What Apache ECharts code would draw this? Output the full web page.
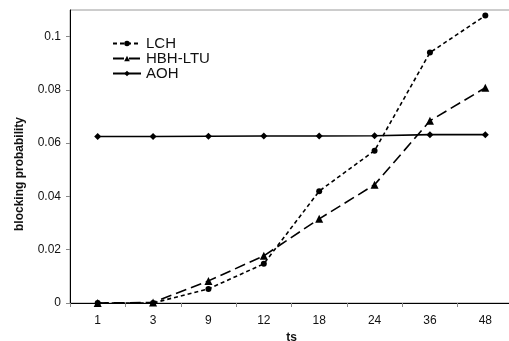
<!DOCTYPE html>
<html>
<head>
<meta charset="utf-8">
<script src="https://cdn.jsdelivr.net/npm/echarts@6/dist/echarts.min.js"></script>
<style>
  html, body { margin: 0; padding: 0; background: #fff; }
  #chart { width: 509px; height: 341px; }
</style>
</head>
<body>
<div id="chart"></div>
<script>
const categories = ['1', '3', '9', '12', '18', '24', '36', '48']
const lch = [0, 0, 0.0053, 0.0147, 0.042, 0.0572, 0.094, 0.1079]
const hbhLtu = [0, 0.0002, 0.0083, 0.0177, 0.0316, 0.0444, 0.0684, 0.0808]
const aoh = [0.0625, 0.0625, 0.0626, 0.0627, 0.0627, 0.0628, 0.0632, 0.0632]

const font = 'Liberation Sans, Arial, sans-serif'
const chart = echarts.init(document.getElementById('chart'))

chart.setOption({
  animation: false,
  backgroundColor: '#fff',
  textStyle: { fontFamily: font, color: '#111' },
  grid: {
    left: 70, top: 10, right: -4, bottom: 38,
    outerBoundsMode: 'none',
    containLabel: false,
    show: true, borderColor: '#9a9a9a', borderWidth: 1
  },
  legend: {
    orient: 'vertical',
    left: 107,
    top: 31,
    itemWidth: 28,
    itemHeight: 7,
    itemGap: 0,
    textStyle: { fontFamily: font, fontSize: 15, lineHeight: 15, color: '#111' },
    data: ['LCH', 'HBH-LTU', 'AOH']
  },
  xAxis: {
    type: 'category',
    data: categories,
    boundaryGap: true,
    name: 'ts',
    nameLocation: 'middle',
    nameGap: 23,
    nameTextStyle: { fontFamily: font, fontSize: 12, fontWeight: 'bold', color: '#111' },
    axisLine: { lineStyle: { color: '#000', width: 1 } },
    axisTick: { show: true, length: 4, lineStyle: { color: '#888' } },
    axisLabel: { fontSize: 12, color: '#111', margin: 12 },
    splitLine: { show: false }
  },
  yAxis: {
    type: 'value',
    min: 0,
    max: 0.11,
    interval: 0.02,
    axisLine: { show: true, lineStyle: { color: '#000', width: 1 } },
    axisTick: { show: true, length: 4, lineStyle: { color: '#888' } },
    axisLabel: { fontSize: 12, color: '#111', margin: 9, showMaxLabel: false },
    splitLine: { show: false }
  },
  graphic: [
    {
      type: 'text',
      left: 14,
      top: 117,
      rotation: Math.PI / 2,
      style: {
        text: 'blocking probability',
        font: 'bold 12px ' + font,
        fill: '#111'
      }
    }
  ],
  series: [
    {
      name: 'LCH',
      type: 'line',
      data: lch,
      symbol: 'circle',
      symbolSize: 6,
      itemStyle: { color: '#000' },
      lineStyle: { color: '#000', width: 1.6, type: [4, 3] },
      z: 3
    },
    {
      name: 'HBH-LTU',
      type: 'line',
      data: hbhLtu,
      symbol: 'triangle',
      symbolSize: 8,
      itemStyle: { color: '#000' },
      lineStyle: { color: '#000', width: 1.6, type: [11, 5] },
      z: 4
    },
    {
      name: 'AOH',
      type: 'line',
      data: aoh,
      symbol: 'diamond',
      symbolSize: 7,
      itemStyle: { color: '#000' },
      lineStyle: { color: '#000', width: 1.6 },
      z: 2
    }
  ]
})
</script>
</body>
</html>
